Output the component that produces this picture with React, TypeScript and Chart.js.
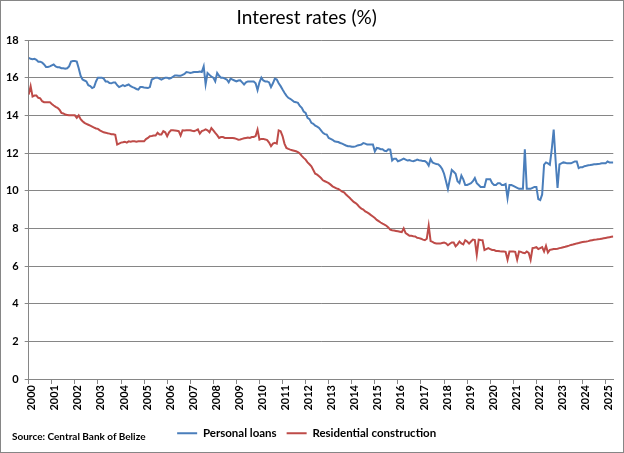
import React, { useEffect, useRef } from "react";
import { Chart, registerables } from "chart.js";

Chart.register(...registerables);

const TITLE = "Interest rates (%)";
const SOURCE = "Source: Central Bank of Belize";
const SERIES_NAMES = ["Personal loans", "Residential construction"];
const YEARS = [
  2000, 2001, 2002, 2003, 2004, 2005, 2006, 2007, 2008, 2009, 2010, 2011, 2012,
  2013, 2014, 2015, 2016, 2017, 2018, 2019, 2020, 2021, 2022, 2023, 2024, 2025,
];
const Y_TICKS = [0, 2, 4, 6, 8, 10, 12, 14, 16, 18];

// Monthly values, Jan 2000 .. May 2025
const PERSONAL_LOANS = [
  17.05, 17.0, 16.98, 17.0, 16.95, 16.85, 16.85, 16.8, 16.7, 16.57, 16.57, 16.6, // 2000
  16.65, 16.7, 16.6, 16.55, 16.55, 16.5, 16.5, 16.47, 16.5, 16.6, 16.85, 16.88, // 2001
  16.88, 16.85, 16.5, 16.1, 15.9, 15.85, 15.8, 15.6, 15.55, 15.45, 15.5, 15.8, // 2002
  16.0, 16.0, 16.0, 15.95, 15.8, 15.8, 15.72, 15.7, 15.75, 15.75, 15.6, 15.5, // 2003
  15.55, 15.6, 15.55, 15.6, 15.64, 15.55, 15.5, 15.46, 15.4, 15.37, 15.5, 15.5, // 2004
  15.48, 15.47, 15.45, 15.5, 15.9, 15.95, 16.0, 16.0, 15.95, 15.9, 15.95, 16.0, // 2005
  16.0, 15.95, 15.98, 16.05, 16.12, 16.12, 16.1, 16.1, 16.15, 16.2, 16.3, 16.28, // 2006
  16.25, 16.27, 16.3, 16.3, 16.3, 16.32, 16.3, 16.6, 15.65, 16.25, 16.15, 16.05, // 2007
  16.0, 15.8, 16.25, 16.1, 16.0, 16.0, 15.95, 15.9, 15.75, 15.95, 15.9, 15.85, // 2008
  15.8, 15.85, 15.86, 15.75, 15.64, 15.75, 15.8, 15.8, 15.8, 15.8, 15.7, 15.34, // 2009
  15.75, 16.0, 15.85, 15.8, 15.8, 15.75, 15.5, 15.7, 15.95, 15.9, 15.7, 15.55, // 2010
  15.37, 15.2, 15.05, 14.93, 14.88, 14.8, 14.72, 14.7, 14.66, 14.5, 14.4, 14.2, // 2011
  14.13, 13.87, 13.8, 13.6, 13.55, 13.45, 13.4, 13.33, 13.2, 13.07, 13.0, 12.98, // 2012
  12.8, 12.75, 12.7, 12.62, 12.6, 12.58, 12.53, 12.5, 12.45, 12.4, 12.36, 12.36, // 2013
  12.33, 12.33, 12.35, 12.4, 12.42, 12.45, 12.53, 12.5, 12.45, 12.45, 12.45, 12.45, // 2014
  12.09, 12.27, 12.25, 12.2, 12.2, 12.12, 12.1, 12.2, 12.18, 11.6, 11.7, 11.7, // 2015
  11.56, 11.6, 11.65, 11.7, 11.65, 11.6, 11.62, 11.58, 11.56, 11.6, 11.65, 11.62, // 2016
  11.6, 11.57, 11.57, 11.5, 11.33, 11.68, 11.5, 11.45, 11.42, 11.4, 11.3, 11.15, // 2017
  10.9, 10.5, 10.09, 10.6, 11.1, 11.0, 10.9, 10.5, 10.4, 10.8, 10.6, 10.3, // 2018
  10.3, 10.35, 10.4, 10.5, 10.67, 10.4, 10.3, 10.2, 10.2, 10.2, 10.6, 10.6, // 2019
  10.6, 10.4, 10.3, 10.3, 10.4, 10.4, 10.3, 10.3, 10.35, 9.6, 10.3, 10.3, // 2020
  10.25, 10.2, 10.15, 10.1, 10.1, 10.1, 12.2, 10.1, 10.1, 10.1, 10.15, 10.2, // 2021
  10.2, 9.55, 9.5, 9.8, 11.38, 11.5, 11.45, 11.38, 12.2, 13.24, 11.6, 10.14, // 2022
  11.4, 11.45, 11.5, 11.48, 11.45, 11.45, 11.45, 11.5, 11.55, 11.55, 11.2, 11.25, // 2023
  11.25, 11.3, 11.32, 11.35, 11.36, 11.38, 11.4, 11.4, 11.42, 11.43, 11.45, 11.45, // 2024
  11.45, 11.55, 11.5, 11.5, 11.5, // 2025
];

const RESIDENTIAL = [
  15.1, 15.55, 15.0, 15.05, 15.05, 14.93, 14.9, 14.75, 14.7, 14.7, 14.7, 14.7, // 2000
  14.6, 14.52, 14.45, 14.4, 14.3, 14.13, 14.1, 14.04, 14.02, 14.0, 14.0, 14.0, // 2001
  14.0, 13.87, 14.0, 13.8, 13.69, 13.6, 13.55, 13.5, 13.45, 13.4, 13.35, 13.3, // 2002
  13.28, 13.2, 13.15, 13.1, 13.08, 13.05, 13.03, 13.0, 13.0, 12.97, 12.45, 12.5, // 2003
  12.55, 12.57, 12.6, 12.55, 12.62, 12.6, 12.62, 12.62, 12.6, 12.62, 12.62, 12.62, // 2004
  12.62, 12.74, 12.8, 12.89, 12.9, 12.93, 12.93, 13.07, 12.98, 12.98, 13.16, 13.1, // 2005
  12.89, 13.1, 13.21, 13.21, 13.2, 13.18, 13.16, 12.93, 13.21, 13.2, 13.21, 13.21, // 2006
  13.21, 13.18, 13.16, 13.2, 13.25, 13.03, 13.16, 13.2, 13.25, 13.2, 13.1, 13.32, // 2007
  13.2, 13.07, 12.95, 12.8, 12.85, 12.85, 12.8, 12.8, 12.8, 12.8, 12.8, 12.78, // 2008
  12.75, 12.71, 12.72, 12.75, 12.78, 12.8, 12.82, 12.8, 12.85, 12.85, 12.9, 13.24, // 2009
  12.71, 12.75, 12.75, 12.72, 12.68, 12.55, 12.36, 12.5, 12.54, 12.5, 13.2, 13.16, // 2010
  12.9, 12.5, 12.27, 12.22, 12.18, 12.15, 12.12, 12.09, 12.05, 11.97, 11.85, 11.74, // 2011
  11.65, 11.5, 11.4, 11.29, 11.1, 10.9, 10.85, 10.76, 10.67, 10.55, 10.5, 10.45, // 2012
  10.4, 10.32, 10.23, 10.18, 10.12, 10.09, 10.02, 9.95, 9.91, 9.8, 9.7, 9.61, // 2013
  9.5, 9.4, 9.34, 9.25, 9.13, 9.05, 9.0, 8.9, 8.85, 8.78, 8.7, 8.63, // 2014
  8.55, 8.45, 8.38, 8.31, 8.25, 8.2, 8.14, 8.05, 7.93, 7.9, 7.88, 7.86, // 2015
  7.84, 7.82, 7.8, 8.0, 7.75, 7.68, 7.6, 7.6, 7.58, 7.57, 7.5, 7.48, // 2016
  7.45, 7.4, 7.37, 7.45, 8.14, 7.32, 7.28, 7.22, 7.2, 7.2, 7.19, 7.22, // 2017
  7.25, 7.2, 7.1, 7.18, 7.25, 7.25, 7.05, 7.15, 7.3, 7.2, 7.15, 7.37, // 2018
  7.3, 7.19, 7.3, 7.4, 7.38, 6.6, 7.4, 7.38, 7.37, 6.85, 6.9, 6.95, // 2019
  6.9, 6.85, 6.85, 6.8, 6.8, 6.78, 6.77, 6.77, 6.75, 6.33, 6.77, 6.77, // 2020
  6.77, 6.75, 6.33, 6.77, 6.75, 6.7, 6.68, 6.77, 6.7, 6.33, 6.95, 6.97, // 2021
  7.0, 6.9, 6.95, 7.0, 6.77, 7.07, 6.72, 6.86, 6.88, 6.9, 6.9, 6.92, // 2022
  6.95, 6.97, 7.0, 7.02, 7.05, 7.08, 7.12, 7.14, 7.17, 7.2, 7.22, 7.25, // 2023
  7.27, 7.29, 7.3, 7.32, 7.35, 7.37, 7.39, 7.4, 7.42, 7.43, 7.45, 7.47, // 2024
  7.49, 7.51, 7.53, 7.55, 7.57, // 2025
];

const BLUE = "#4A7EBB";
const RED = "#BE4B48";
const GRID = "#868686";
const FONT = "Lato, 'Open Sans', sans-serif";

const borderPlugin = {
  id: "outerBorder",
  beforeDraw(chart: any) {
    const { ctx, width, height } = chart;
    ctx.save();
    ctx.fillStyle = "#ffffff";
    ctx.fillRect(0, 0, width, height);
    ctx.restore();
  },
  afterDraw(chart: any) {
    const { ctx, width, height } = chart;
    ctx.save();
    ctx.strokeStyle = GRID;
    ctx.lineWidth = 1;
    ctx.strokeRect(0.5, 0.5, width - 1, height - 1);
    ctx.restore();
  },
};

export default function App() {
  const ref = useRef<HTMLCanvasElement | null>(null);

  useEffect(() => {
    const canvas = ref.current;
    if (!canvas) return;
    const toPoints = (arr: number[]) => arr.map((v, i) => ({ x: i, y: v }));
    const lastIndex = PERSONAL_LOANS.length - 1;
    const chart = new Chart(canvas, {
      type: "line",
      data: {
        datasets: [
          {
            label: SERIES_NAMES[0],
            data: toPoints(PERSONAL_LOANS),
            borderColor: BLUE,
            backgroundColor: BLUE,
            borderWidth: 2,
            pointRadius: 0,
            tension: 0,
          },
          {
            label: SERIES_NAMES[1],
            data: toPoints(RESIDENTIAL),
            borderColor: RED,
            backgroundColor: RED,
            borderWidth: 2,
            pointRadius: 0,
            tension: 0,
          },
        ],
      },
      options: {
        responsive: false,
        animation: false,
        devicePixelRatio: 1,
        layout: { padding: { left: 0, right: 10.7, top: 0, bottom: 4 } },
        plugins: {
          title: {
            display: true,
            text: TITLE,
            color: "#000000",
            font: { family: FONT, size: 19, weight: "normal" },
            padding: { top: 6.5, bottom: 10.7 },
          },
          legend: {
            position: "bottom",
            labels: {
              color: "#000000",
              font: { family: FONT, size: 11.5, weight: "bold" },
              usePointStyle: true,
              pointStyle: "line",
              pointStyleWidth: 20,
              padding: 10,
            },
          },
          tooltip: { enabled: false },
        },
        scales: {
          x: {
            type: "linear",
            min: 0,
            max: lastIndex,
            afterBuildTicks: (scale: any) => {
              scale.ticks = YEARS.map((_, i) => ({ value: i * 12 }));
            },
            afterFit: (scale: any) => {
              scale.height = 38.5;
            },
            ticks: {
              autoSkip: false,
              maxRotation: 90,
              minRotation: 90,
              padding: 1,
              labelOffset: 3,
              color: "#000000",
              font: { family: FONT, size: 11, weight: "bold" },
              callback: (v: any) => String(YEARS[Math.round(Number(v) / 12)]),
            },
            grid: {
              display: true,
              drawOnChartArea: false,
              drawTicks: true,
              tickLength: 5,
              color: GRID,
            },
            border: { display: true, color: GRID },
          },
          y: {
            min: 0,
            max: 18,
            afterBuildTicks: (scale: any) => {
              scale.ticks = Y_TICKS.map((v) => ({ value: v }));
            },
            afterFit: (scale: any) => {
              scale.width = 28.7;
            },
            ticks: {
              padding: 6,
              color: "#000000",
              font: { family: FONT, size: 11, weight: "bold" },
            },
            grid: {
              color: GRID,
              tickLength: 4,
            },
            border: { display: true, color: GRID },
          },
        },
      },
      plugins: [borderPlugin],
    } as any);
    return () => chart.destroy();
  }, []);

  return (
    <div style={{ position: "absolute", left: 0, top: 0, width: 624, height: 453 }}>
      <canvas ref={ref} width={624} height={453} style={{ display: "block" }} />
      <div
        style={{
          position: "absolute",
          left: 12,
          top: 430,
          fontFamily: FONT,
          fontWeight: "bold",
          fontSize: 10,
          color: "#000000",
          whiteSpace: "nowrap",
        }}
      >
        {SOURCE}
      </div>
    </div>
  );
}
